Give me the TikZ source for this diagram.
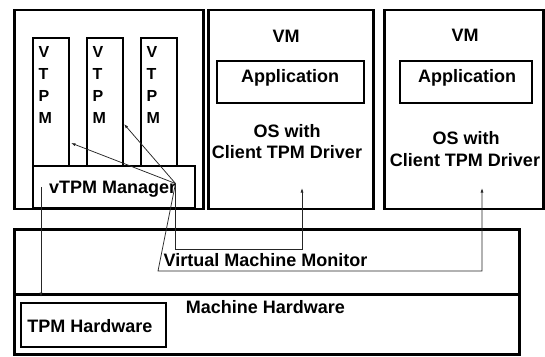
\documentclass[tikz,border=0pt]{standalone}
\usepackage{fontspec}
\setmainfont{Liberation Sans}
\usetikzlibrary{arrows.meta}
\begin{document}
\begin{tikzpicture}[x=1pt,y=-1pt,
  box/.style={draw=black, line width=2pt, inner sep=0pt, anchor=north west},
  thickbox/.style={box, line width=2.5pt},
  lbl/.style={font=\bfseries\fontsize{18}{20}\selectfont, anchor=base, inner sep=0pt},
  vl/.style={font=\fontsize{16}{18}\selectfont\bfseries, anchor=base west, inner sep=0pt},
  link/.style={draw=black!85, line width=0.75pt},
  tip/.style={-{Latex[length=4.5pt,width=3pt]}}
]
\useasboundingbox (0,0) rectangle (545,356);

% host domain with the three vTPM instances and their manager
\node[thickbox, minimum width=189pt, minimum height=199pt] (host) at (13,8.5) {};
\foreach \c/\x in {1/32,2/86,3/140} {
  \node[box, minimum width=36pt, minimum height=128pt] (col\c) at (\x,37) {};
  \foreach \ch [count=\i] in {V,T,P,M}
    \node[vl] at ([xshift=6.5pt,yshift={-20pt-22pt*(\i-1)}]col\c.north west) {\ch};
}
\node[box, minimum width=162pt, minimum height=42pt] (mgr) at (32,165) {};
\node[lbl, anchor=base west] at (49,193) {vTPM Manager};

% guest virtual machines
\node[thickbox, minimum width=165pt, minimum height=199pt] (vm1) at (207,8.5) {};
\node[thickbox, minimum width=159pt, minimum height=199pt] (vm2) at (383,8.5) {};
\node[box, minimum width=147pt, minimum height=42pt] (app1) at (216,60) {};
\node[box, minimum width=132pt, minimum height=42pt] (app2) at (399,60) {};

\node[lbl] at (286,42) {VM};
\node[lbl] at (290,82) {Application};
\node[lbl] at (287,137) {OS with};
\node[lbl] at (287,158.5) {Client TPM Driver};

\node[lbl] at (465,41.5) {VM};
\node[lbl] at (467,82) {Application};
\node[lbl] at (466,144) {OS with};
\node[lbl] at (465,166) {Client TPM Driver};

% monitor and hardware layers
\node[thickbox, minimum width=505pt, minimum height=65pt] (vmm) at (13,228) {};
\node[thickbox, minimum width=505pt, minimum height=60pt] (hw) at (13,293) {};
\node[box, minimum width=145pt, minimum height=44pt] (tpmhw) at (20,302) {};

\node[lbl] at (265.5,266) {Virtual Machine Monitor};
\node[lbl] at (265.5,313) {Machine Hardware};
\node[lbl] at (90,332) {TPM Hardware};

% connector end points
\coordinate (hub) at (175.5,183.5);
\coordinate (t1) at (71,143);
\coordinate (t2) at (124,124);
\coordinate (drv1) at (302,188);
\coordinate (drv2) at (482,188);
\coordinate (bend) at (158,271);
\coordinate (mgrout) at (41,187);
\coordinate (tpmin) at (41,297);

\draw[link,tip] (hub) -- (t1);
\draw[link,tip] (hub) -- (t2);
\draw[link,tip] (hub) |- (302,249) -- (drv1);
\draw[link,tip] (hub) -- (bend) -| (drv2);
\draw[link,tip] (mgrout) -- (tpmin);
\end{tikzpicture}
\end{document}
